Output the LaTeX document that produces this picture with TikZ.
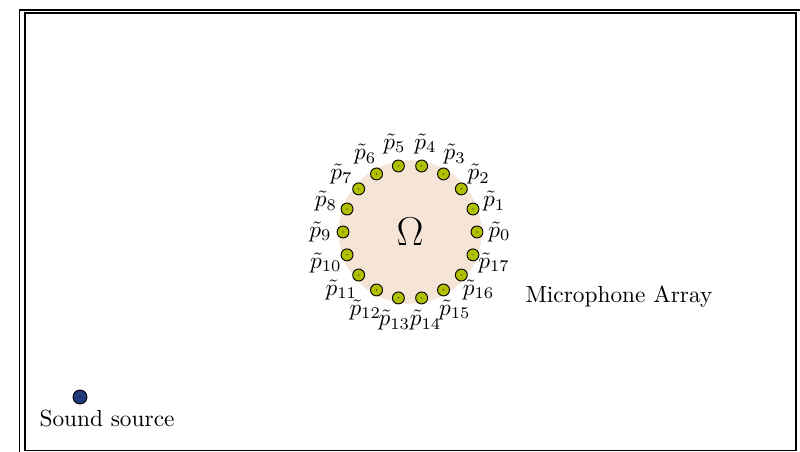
\documentclass[tikz,border=0pt]{standalone}
\usepackage{tikz}
\usetikzlibrary{positioning,calc}
\definecolor{regioncol}{RGB}{246,229,214}
\definecolor{miccol}{RGB}{176,192,0}
\definecolor{srccol}{RGB}{30,58,122}
\tikzset{
  mic/.style={circle,draw=black,fill=miccol,inner sep=0pt,minimum size=0.18cm},
  source/.style={circle,draw=black,fill=srccol,inner sep=0pt,minimum size=0.21cm},
}

\begin{document}
\begin{tikzpicture}
   \useasboundingbox (0,0) rectangle (12.06,6.814);
   \clip (0,0) rectangle (12.06,6.814);
   % frame
   \draw[line width=0.5pt] (0.294,-0.1) -- (0.294,6.663) -- (12.2,6.663);
   \draw[line width=0.7pt] (0.377,0.023) rectangle (12.0,6.618);
   % region and array
   \coordinate (c) at (6.181,3.317);
   \fill[regioncol] (c) circle(1.08);
   \node (omega) at (c) {\fontsize{16}{18}\selectfont $\Omega$};
   \foreach \k in {0,...,17} {
     \node[mic] (mic\k) at ($(c)+(\k*20:1.01)$) {};
     \fill[black] (mic\k.center) circle(0.25pt);
     \node (lab\k) at ($(c)+(\k*20:1.35)$) {$\tilde{p}_{\k}$};
   }
   \node (arraylab) at (9.331,2.337) {Microphone Array};
   % source
   \node[source] (src) at (1.206,0.829) {};
   \fill[black] (src.center) circle(0.25pt);
   \node (srclab) at (1.613,0.497) {Sound source};
\end{tikzpicture}
\end{document}
